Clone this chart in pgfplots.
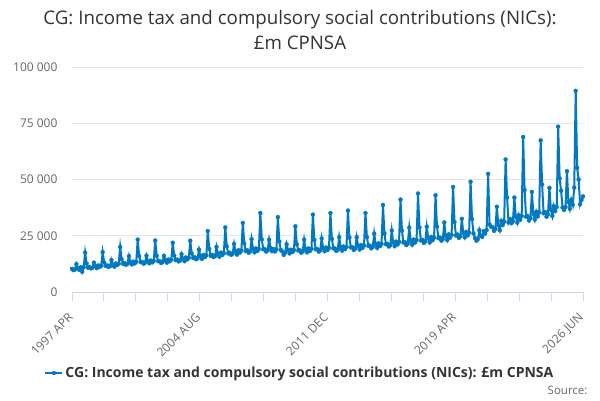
\documentclass[border=0pt]{standalone}
\usepackage{fontspec}
\setmainfont{Open Sans}
\usepackage{pgfplots}
\pgfplotsset{compat=1.18}
\usepackage{pgfplotstable}
\definecolor{ser}{RGB}{0,121,193}
\definecolor{titlec}{RGB}{51,51,51}
\definecolor{labc}{RGB}{102,102,102}
\definecolor{gridc}{RGB}{230,230,230}
\definecolor{axisc}{RGB}{204,214,235}
\pgfplotstableread[row sep=\\]{
v\\
10300\\ 9700\\ 10000\\ 12400\\ 10600\\ 9800\\ 11000\\ 9000\\ 11000\\ 17500\\ 12650\\ 10800\\
11100\\ 10500\\ 10800\\ 13000\\ 11450\\ 10600\\ 11800\\ 11150\\ 11700\\ 17700\\ 13200\\ 11600\\
11850\\ 11150\\ 11500\\ 14200\\ 12200\\ 11250\\ 12700\\ 12000\\ 12600\\ 20000\\ 14550\\ 12500\\
12900\\ 12100\\ 12500\\ 15950\\ 13250\\ 12250\\ 13500\\ 12750\\ 13400\\ 23300\\ 15990\\ 13250\\
13400\\ 12600\\ 13000\\ 16170\\ 13800\\ 12750\\ 13950\\ 13150\\ 13800\\ 22900\\ 16120\\ 13700\\
13700\\ 12900\\ 13300\\ 16050\\ 14100\\ 13050\\ 14450\\ 13650\\ 14350\\ 21900\\ 16230\\ 14200\\
14400\\ 13600\\ 14000\\ 16820\\ 14850\\ 13700\\ 15350\\ 14500\\ 15200\\ 22800\\ 17140\\ 15100\\
15450\\ 14550\\ 15000\\ 18870\\ 15900\\ 14700\\ 16450\\ 15500\\ 16300\\ 27100\\ 19130\\ 16100\\
16500\\ 15500\\ 16000\\ 20060\\ 16950\\ 15700\\ 17500\\ 16500\\ 17300\\ 28700\\ 20310\\ 17150\\
17500\\ 16500\\ 17000\\ 21380\\ 18000\\ 16650\\ 18550\\ 17500\\ 18400\\ 30700\\ 21610\\ 18200\\
18550\\ 17450\\ 18000\\ 23470\\ 19100\\ 17650\\ 19350\\ 18250\\ 19150\\ 35100\\ 23380\\ 19000\\
19050\\ 17950\\ 18500\\ 23240\\ 19600\\ 18150\\ 19100\\ 18000\\ 18900\\ 33300\\ 22440\\ 18700\\
18000\\ 16500\\ 17500\\ 21240\\ 18550\\ 17150\\ 18800\\ 17750\\ 18650\\ 29200\\ 21260\\ 18450\\
18550\\ 17450\\ 18000\\ 23250\\ 19100\\ 17650\\ 19350\\ 18250\\ 19150\\ 34400\\ 23170\\ 19000\\
19050\\ 17950\\ 18500\\ 23810\\ 19600\\ 18150\\ 19750\\ 18650\\ 19600\\ 35100\\ 23630\\ 19400\\
19350\\ 18250\\ 18800\\ 24370\\ 19950\\ 18400\\ 20200\\ 19050\\ 20000\\ 36200\\ 24270\\ 19800\\
19900\\ 18700\\ 19300\\ 24360\\ 20450\\ 18900\\ 20850\\ 19650\\ 20650\\ 35100\\ 24390\\ 20450\\
20600\\ 19400\\ 20000\\ 25980\\ 21200\\ 19600\\ 21600\\ 20400\\ 21400\\ 38700\\ 26010\\ 21200\\
21400\\ 20200\\ 20800\\ 27300\\ 22050\\ 20400\\ 22400\\ 21150\\ 22200\\ 41100\\ 27240\\ 22000\\
22150\\ 20850\\ 21500\\ 28640\\ 22800\\ 21050\\ 23300\\ 22000\\ 23100\\ 43800\\ 28690\\ 22900\\
23200\\ 21800\\ 22500\\ 29060\\ 23850\\ 22050\\ 24400\\ 23000\\ 24150\\ 43000\\ 29150\\ 23900\\
24200\\ 22800\\ 23500\\ 30920\\ 24900\\ 23050\\ 25600\\ 24150\\ 25350\\ 46700\\ 31110\\ 25100\\
25550\\ 24050\\ 24800\\ 32540\\ 26300\\ 24300\\ 26650\\ 25150\\ 26400\\ 49000\\ 32410\\ 26000\\
24000\\ 22800\\ 23500\\ 27500\\ 25000\\ 24500\\ 27000\\ 26000\\ 27500\\ 52500\\ 30000\\ 29000\\
28800\\ 27150\\ 28000\\ 37890\\ 29700\\ 27450\\ 31550\\ 29750\\ 31250\\ 58900\\ 42000\\ 30950\\
32450\\ 30550\\ 31500\\ 42000\\ 33400\\ 30850\\ 34100\\ 32150\\ 33750\\ 68900\\ 45300\\ 33450\\
33800\\ 31800\\ 32800\\ 44500\\ 34750\\ 32150\\ 35650\\ 33650\\ 35350\\ 67400\\ 47800\\ 35000\\
35550\\ 33450\\ 34500\\ 46300\\ 36550\\ 33800\\ 38150\\ 36000\\ 37800\\ 73500\\ 50500\\ 45000\\
37500\\ 36500\\ 37800\\ 53700\\ 40000\\ 37000\\ 41000\\ 38750\\ 46400\\ 89400\\ 55200\\ 50000\\
39000\\ 41000\\ 42500\\
}\datatable
\begin{document}
\begin{tikzpicture}[x=1pt,y=1pt]
\useasboundingbox (0,0) rectangle (600,400);
\node[font=\fontsize{18.7}{21}\selectfont, text=titlec] at (300,380) {CG: Income tax and compulsory social contributions (NICs):};
\node[font=\fontsize{18.7}{21}\selectfont, text=titlec] at (300,357) {£m CPNSA};
\begin{axis}[
  at={(72pt,108pt)}, anchor=south west,
  scale only axis, width=511pt, height=225pt,
  xmin=0, xmax=350, ymin=0, ymax=100000,
  clip=false,
  scaled y ticks=false,
  separate axis lines,
  axis x line*=bottom, axis y line*=left,
  x axis line style={draw=axisc, line width=1pt},
  y axis line style={draw=none},
  ytick={0,25000,50000,75000,100000},
  yticklabels={0,25 000,50 000,75 000,100 000},
  ymajorgrids, grid style={gridc, line width=1pt},
  ytick style={draw=none},
  yticklabel style={font=\fontsize{12}{14}\selectfont, text=labc, xshift=-2pt},
  xtick={0,87.5,175,262.5,350},
  xticklabels={1997 APR,2004 AUG,2011 DEC,2019 APR,2026 JUN},
  minor xtick={21.875,43.75,65.625,109.375,131.25,153.125,196.875,218.75,240.625,284.375,306.25,328.125},
  tick align=outside,
  major tick length=9pt, minor tick length=9pt,
  xtick style={draw=axisc, line width=1pt},
  minor x tick style={draw=axisc, line width=1pt},
  xticklabel style={yshift=-12pt, xshift=1pt, rotate=45, anchor=east, font=\fontsize{12}{14}\selectfont, text=labc},
  legend style={at={(0.446,-0.36)}, anchor=center, draw=none, fill=none, font=\fontsize{14}{16}\selectfont\bfseries, text=titlec},
  legend cell align=left,
]
\addplot[color=ser, line width=2pt, mark=*, mark size=2pt, mark options={solid, fill=ser, draw=ser, line width=0.3pt}] table[x expr=\coordindex, y=v]{\datatable};
\addlegendentry{CG: Income tax and compulsory social contributions (NICs): £m CPNSA}
\end{axis}
\node[anchor=east, font=\fontsize{11.5}{13}\selectfont, text=labc] at (591,10) {Source:};
\end{tikzpicture}
\end{document}
